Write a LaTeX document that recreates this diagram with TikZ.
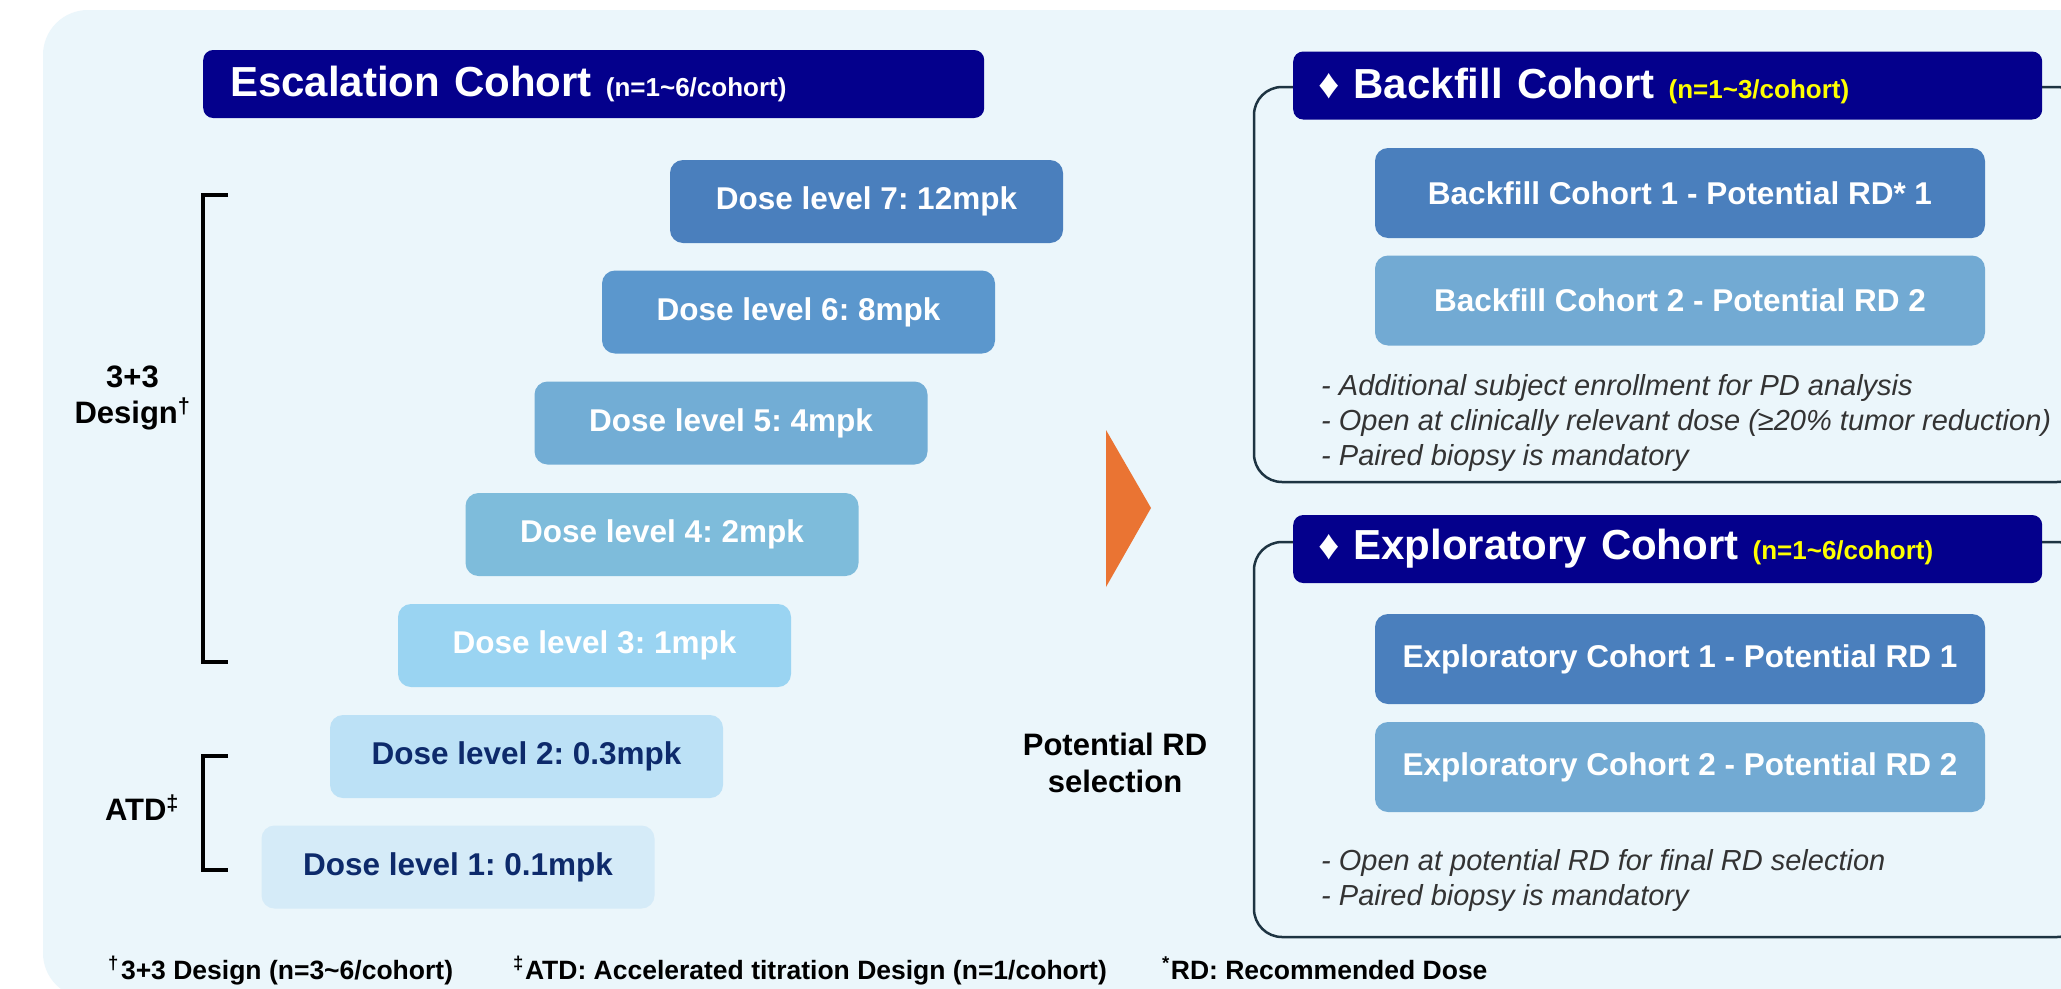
\documentclass[tikz,border=0pt]{standalone}
\usepackage{fontspec}
\setmainfont{Liberation Sans}
\frenchspacing
\definecolor{bg}{HTML}{EBF6FB}
\definecolor{navy}{HTML}{04008C}
\definecolor{dlseven}{HTML}{4A7FBD}
\definecolor{dlsix}{HTML}{5B97CD}
\definecolor{dlfive}{HTML}{72ADD5}
\definecolor{dlfour}{HTML}{7EBCDB}
\definecolor{dlthree}{HTML}{9AD4F2}
\definecolor{dltwo}{HTML}{BCE1F6}
\definecolor{dlone}{HTML}{D5EBF8}
\definecolor{cohone}{HTML}{4A7FBD}
\definecolor{cohtwo}{HTML}{72AAD3}
\definecolor{darktext}{HTML}{0D2A6B}
\definecolor{framec}{HTML}{1E3442}
\definecolor{bulc}{HTML}{333333}
\definecolor{orng}{HTML}{EA7433}
\definecolor{yel}{HTML}{FFFF00}
\newcommand\myfs[2]{\fontsize{#1}{#2}\selectfont}
\begin{document}
\frenchspacing
\begin{tikzpicture}[x=1pt,y=-1pt,
  dosebox/.style={rounded corners=13pt, minimum width=393pt, minimum height=83pt, inner sep=0pt, font=\myfs{31.5}{36}\bfseries, text=white},
  cohortbox/.style={rounded corners=13pt, minimum width=610pt, minimum height=90pt, inner sep=0pt, font=\myfs{31.5}{36}\bfseries, text=white},
  hdr/.style={fill=navy, rounded corners=10pt, inner ysep=0pt, minimum height=68pt, text=white, font=\myfs{42}{48}\bfseries, align=left, anchor=west},
  cframe/.style={draw=framec, line width=2.5pt, rounded corners=28pt},
  bul/.style={font=\myfs{29}{35}\itshape, text=bulc, anchor=base west, inner sep=0pt},
  lbl/.style={font=\myfs{31}{37}\bfseries, anchor=base, inner sep=0pt},
  foot/.style={font=\myfs{26.5}{30}\bfseries, anchor=base west, inner sep=0pt},
  brk/.style={line width=3.5pt}
]
\useasboundingbox (0,0) rectangle (2061,988);
\clip (0,0) rectangle (2061,988);
\fill[white] (0,0) rectangle (2061,988);
\fill[bg, rounded corners=45pt] (43,10) rectangle (2110,998);

% Escalation
\node[hdr, minimum width=781pt, text width=727pt, inner xsep=27pt] (esc) at (203,84)
  {Escalation Cohort {\myfs{26}{30}(n=1\textasciitilde 6/cohort)}};

\node[dosebox, fill=dlseven] (d7) at (866.5,201.5) {Dose level 7: 12mpk};
\node[dosebox, fill=dlsix] (d6) at (798.5,312) {Dose level 6: 8mpk};
\node[dosebox, fill=dlfive] (d5) at (731,423) {Dose level 5: 4mpk};
\node[dosebox, fill=dlfour] (d4) at (662,534.5) {Dose level 4: 2mpk};
\node[dosebox, fill=dlthree] (d3) at (594.5,645.5) {Dose level 3: 1mpk};
\node[dosebox, fill=dltwo, text=darktext] (d2) at (526.5,756.5) {Dose level 2: 0.3mpk};
\node[dosebox, fill=dlone, text=darktext] (d1) at (458,867) {Dose level 1: 0.1mpk};

% brackets
\draw[brk] (228,195) -- (203,195) -- (203,662) -- (228,662);
\draw[brk] (228,756) -- (203,756) -- (203,870) -- (228,870);
\node[lbl] (l33) at (132.5,387) {3+3};
\node[lbl] (ldes) at (132.5,423) {Design\textsuperscript{†}};
\node[lbl] (latd) at (142,820) {ATD\textsuperscript{‡}};

% arrow
\fill[orng] (1106,430) -- (1151,508) -- (1106,587) -- cycle;
\node[lbl] (pot1) at (1115,755) {Potential RD};
\node[lbl] (pot2) at (1115,792) {selection};

% Backfill
\draw[cframe] (1254,87) rectangle (2085,482);
\node[hdr, minimum width=749pt, text width=699pt, inner xsep=25pt] (bfh) at (1293,85.5)
  {♦ Backfill Cohort {\myfs{26}{30}\color{yel}(n=1\textasciitilde 3/cohort)}};
\node[cohortbox, fill=cohone] (bf1) at (1680,193) {Backfill Cohort 1 - Potential RD* 1};
\node[cohortbox, fill=cohtwo] (bf2) at (1680,300.5) {Backfill Cohort 2 - Potential RD 2};
\node[bul] (bfa) at (1321,395) {- Additional subject enrollment for PD analysis};
\node[bul] (bfb) at (1321,430) {- Open at clinically relevant dose (≥20\% tumor reduction)};
\node[bul] (bfc) at (1321,465) {- Paired biopsy is mandatory};

% Exploratory
\draw[cframe] (1254,542) rectangle (2085,937);
\node[hdr, minimum width=749pt, text width=699pt, inner xsep=25pt] (exh) at (1293,549)
  {♦ Exploratory Cohort {\myfs{26}{30}\color{yel}(n=1\textasciitilde 6/cohort)}};
\node[cohortbox, fill=cohone] (ex1) at (1680,659) {Exploratory Cohort 1 - Potential RD 1};
\node[cohortbox, fill=cohtwo] (ex2) at (1680,767) {Exploratory Cohort 2 - Potential RD 2};
\node[bul] (exa) at (1321,870) {- Open at potential RD for final RD selection};
\node[bul] (exb) at (1321,905) {- Paired biopsy is mandatory};

% footnotes
\node[foot] (f1) at (108,979) {\textsuperscript{†}\kern2pt 3+3 Design (n=3\textasciitilde 6/cohort)};
\node[foot] (f2) at (513,979) {\textsuperscript{‡}\kern1pt ATD: Accelerated titration Design (n=1/cohort)};
\node[foot] (f3) at (1162,979) {\textsuperscript{*}\kern1pt RD: Recommended Dose};
\end{tikzpicture}
\end{document}
